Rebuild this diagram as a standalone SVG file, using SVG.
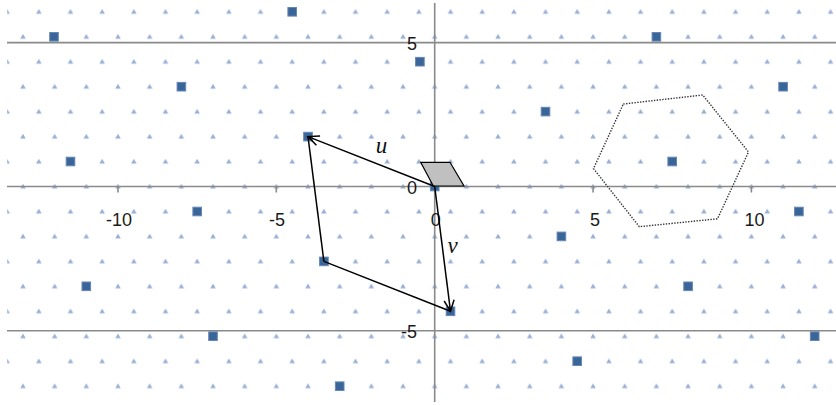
<svg xmlns="http://www.w3.org/2000/svg" xmlns:xlink="http://www.w3.org/1999/xlink" width="836" height="405" viewBox="0 0 836 405">
<style>
.ax{stroke:#8a8a8a;stroke-width:1.6;fill:none}
.lbl{font-family:"Liberation Sans",Arial,sans-serif;font-size:18px;fill:#1a1a1a}
.vec{font-family:"Liberation Serif","Times New Roman",serif;font-style:italic;font-size:23px;fill:#111;text-anchor:middle}
.edge{stroke:#000;stroke-width:1.5;fill:none}
</style>
<defs>
<path id="tri" d="M0,-2.7 L2.8,2.1 L-2.8,2.1 Z" fill="#98afd6"/>
<pattern id="lat" patternUnits="userSpaceOnUse" x="426.78" y="174.02" width="31.67" height="49.92">
<use href="#tri" x="7.92" y="12.48"/>
<use href="#tri" x="23.755" y="37.44"/>
</pattern>
<rect id="sq" x="-4.3" y="-4.3" width="8.6" height="8.6" fill="#3a6598" stroke="#6587b6" stroke-width="1"/>
<marker id="arr" viewBox="-13 -8 15 16" refX="0" refY="0" markerWidth="15" markerHeight="16" markerUnits="userSpaceOnUse" orient="auto">
<path d="M-11,-5 L0,0 L-11,5" fill="none" stroke="#000" stroke-width="1.5"/>
</marker>
</defs>
<rect width="836" height="405" fill="#fff"/>
<g id="lattice">
<rect x="7.2" y="3" width="828.8" height="399" fill="url(#lat)"/>
</g>
<g id="axes">
<line class="ax" x1="7" y1="42.6" x2="836" y2="42.6"/>
<line class="ax" x1="7" y1="186.5" x2="836" y2="186.5"/>
<line class="ax" x1="7" y1="330.8" x2="836" y2="330.8"/>
<line class="ax" x1="434.7" y1="3" x2="434.7" y2="402"/>
<path class="ax" d="M118,186.5v6M276.3,186.5v6M593.1,186.5v6M751.4,186.5v6"/>
<text class="lbl" x="417" y="49.5" text-anchor="end">5</text>
<text class="lbl" x="417" y="194" text-anchor="end">0</text>
<text class="lbl" x="417" y="338" text-anchor="end">-5</text>
<text class="lbl" x="119" y="226" text-anchor="middle">-10</text>
<text class="lbl" x="277" y="226" text-anchor="middle">-5</text>
<text class="lbl" x="435.7" y="226" text-anchor="middle">0</text>
<text class="lbl" x="595" y="226" text-anchor="middle">5</text>
<text class="lbl" x="754.5" y="226" text-anchor="middle">10</text>
</g>
<g id="voronoi-cell">
<polygon points="623.3,104 702.7,95 748.5,152 717.5,218.8 639.3,226.7 593.5,168.6" fill="none" stroke="#333" stroke-width="1.4" stroke-dasharray="1.4 1.4"/>
</g>
<g id="sublattice">
<g id="p-3u"><use href="#sq" x="54" y="36.8"/></g>
<g id="p-2u"><use href="#sq" x="181.4" y="86.7"/></g>
<g id="p-u-v"><use href="#sq" x="292.2" y="11.8"/></g>
<g id="p--v"><use href="#sq" x="419.9" y="61.7"/></g>
<g id="p--u-v"><use href="#sq" x="545.5" y="111.6"/></g>
<g id="p--2u-2v"><use href="#sq" x="656.4" y="36.8"/></g>
<g id="p--3u-2v"><use href="#sq" x="783.1" y="86.7"/></g>
<g id="p-3u+v"><use href="#sq" x="70.5" y="161.5"/></g>
<g id="p-2u+v"><use href="#sq" x="197.2" y="211.5"/></g>
<g id="p-u"><use href="#sq" x="308" y="136.6"/></g>
<g id="p-0"><use href="#sq" x="434.7" y="186.5"/></g>
<g id="p-u+v"><use href="#sq" x="323.9" y="261.4"/></g>
<g id="p-v"><use href="#sq" x="450.5" y="311.3"/></g>
<g id="p--2u-v"><use href="#sq" x="672.2" y="161.5"/></g>
<g id="p--3u-v"><use href="#sq" x="798.9" y="211.5"/></g>
<g id="p--u"><use href="#sq" x="561.4" y="236.4"/></g>
<g id="p-3u+2v"><use href="#sq" x="86.3" y="286.3"/></g>
<g id="p-2u+2v"><use href="#sq" x="213" y="336.2"/></g>
<g id="p-u+2v"><use href="#sq" x="339.7" y="386.2"/></g>
<g id="p--2u"><use href="#sq" x="688.1" y="286.3"/></g>
<g id="p--3u"><use href="#sq" x="814.7" y="336.2"/></g>
<g id="p--u+v"><use href="#sq" x="577.2" y="361.2"/></g>
</g>
<g id="cell">
<polygon points="433.3,186 464,186 450,162.3 420.7,162.3" fill="#c0c0c0" stroke="#000" stroke-width="1.2"/>
</g>
<g id="connectors">
<line class="edge" x1="434.7" y1="186.5" x2="308" y2="136.6" marker-end="url(#arr)"/>
<line class="edge" x1="434.7" y1="186.5" x2="450.5" y2="311.3" marker-end="url(#arr)"/>
<line class="edge" x1="308" y1="136.6" x2="323.9" y2="261.4"/>
<line class="edge" x1="323.9" y1="261.4" x2="450.5" y2="311.3"/>
</g>
<g id="labels">
<text class="vec" x="381.5" y="153">u</text>
<text class="vec" x="452.5" y="253">v</text>
</g>
</svg>
